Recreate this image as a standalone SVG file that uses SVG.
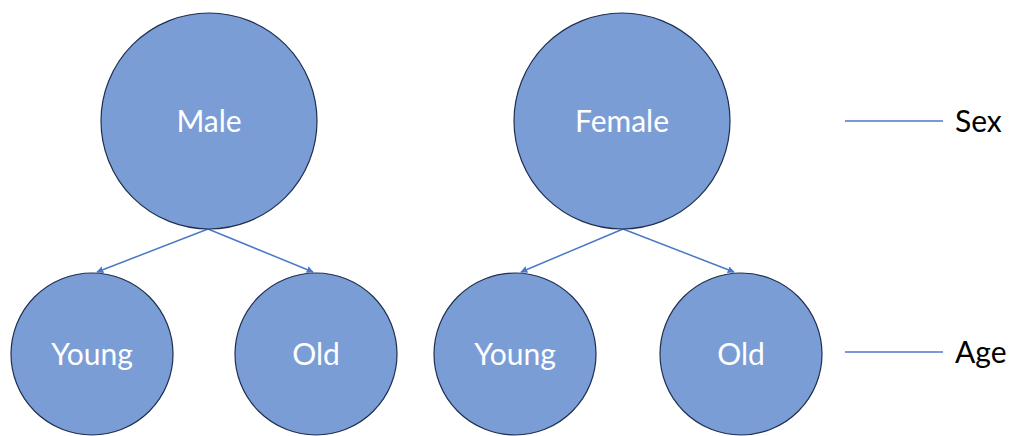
<svg xmlns="http://www.w3.org/2000/svg" width="1010" height="436" viewBox="0 0 1010 436">
<style>
.node{fill:#7b9dd6;stroke:#1f2f4f;stroke-width:1.2}
.lbl{font-family:Lato,"Open Sans",sans-serif;font-size:30px;fill:#ffffff;text-anchor:middle}
.leg{font-family:Lato,"Open Sans",sans-serif;font-size:30px;fill:#000000}
.edge{stroke:#4a78c8;stroke-width:1.5;fill:none}
</style>
<defs>
<marker id="ah" viewBox="0 0 10 10" refX="9" refY="5" markerWidth="7" markerHeight="7" markerUnits="userSpaceOnUse" orient="auto">
<path d="M0,0 L10,5 L0,10 z" fill="#4a78c8"/>
</marker>
</defs>
<g id="connectors">
<line class="edge" x1="208" y1="229" x2="97" y2="272" marker-end="url(#ah)"/>
<line class="edge" x1="208" y1="229" x2="313" y2="272" marker-end="url(#ah)"/>
<line class="edge" x1="623" y1="229" x2="521" y2="272" marker-end="url(#ah)"/>
<line class="edge" x1="623" y1="229" x2="734" y2="272" marker-end="url(#ah)"/>
<line class="edge" x1="845" y1="121" x2="943" y2="121"/>
<line class="edge" x1="845" y1="352" x2="943" y2="352"/>
</g>
<g id="male"><circle class="node" cx="209" cy="121" r="108"/><text class="lbl" x="209" y="132">Male</text></g>
<g id="female"><circle class="node" cx="622" cy="121" r="108"/><text class="lbl" x="622" y="132">Female</text></g>
<g id="young1"><circle class="node" cx="92" cy="354" r="81"/><text class="lbl" x="92" y="365">Young</text></g>
<g id="old1"><circle class="node" cx="316" cy="354" r="81"/><text class="lbl" x="316" y="365">Old</text></g>
<g id="young2"><circle class="node" cx="515" cy="354" r="81"/><text class="lbl" x="515" y="365">Young</text></g>
<g id="old2"><circle class="node" cx="741" cy="354" r="81"/><text class="lbl" x="741" y="365">Old</text></g>
<g id="legend-sex"><text class="leg" x="955" y="132">Sex</text></g>
<g id="legend-age"><text class="leg" x="955" y="363">Age</text></g>
</svg>
